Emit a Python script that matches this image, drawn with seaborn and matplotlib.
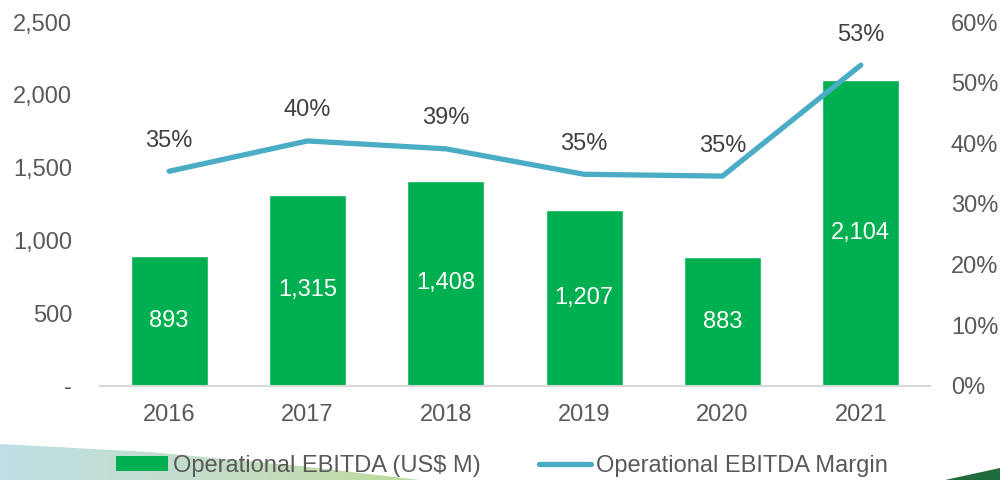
import numpy as np
import matplotlib
matplotlib.use("Agg")
import matplotlib.pyplot as plt
from matplotlib.patches import Polygon, Patch
from matplotlib.lines import Line2D
import seaborn as sns

# Chart data
years = ["2016", "2017", "2018", "2019", "2020", "2021"]
ebitda = [893, 1315, 1408, 1207, 883, 2104]
margin = [35.4, 40.4, 39.1, 34.9, 34.6, 52.9]
left_ticks = [0, 500, 1000, 1500, 2000, 2500]
left_labels = ["-", "500", "1,000", "1,500", "2,000", "2,500"]
right_ticks = [0, 10, 20, 30, 40, 50, 60]

GREEN = "#00B050"
BLUE = "#4BACC6"
GREY = "#595959"

sns.set_style("white")
plt.rcParams["font.family"] = ["Liberation Sans", "DejaVu Sans"]
FS = 17

fig = plt.figure(figsize=(10, 4.8), dpi=100)

# decorative background shapes at the bottom
bg = fig.add_axes([0, 0, 1, 1], zorder=-5)
bg.set_xlim(0, 1000)
bg.set_ylim(480, 0)
bg.axis("off")
grad = np.linspace(0, 1, 256).reshape(1, -1)
cmap = matplotlib.colors.LinearSegmentedColormap.from_list("bgc", ["#BFE0E6", "#C4DDC8", "#BFDA98"])
img = bg.imshow(grad, extent=[0, 430, 480, 440], cmap=cmap, aspect="auto")
shape = Polygon([(0, 444), (150, 452), (300, 466), (420, 480), (0, 480)], closed=True,
                facecolor="none", edgecolor="none")
bg.add_patch(shape)
img.set_clip_path(shape)
bg.add_patch(Polygon([(945, 480), (1000, 468), (1000, 480)], closed=True,
                     facecolor="#1F6B3C", edgecolor="none"))

ax = fig.add_axes([0.1, 0.196, 0.83, 0.758])
sns.barplot(x=years, y=ebitda, color=GREEN, width=0.555, saturation=1, ax=ax)
ax.set_ylim(0, 2500)
ax.set_xlim(-0.5, 5.5)
ax.set_yticks(left_ticks)
ax.set_yticklabels(left_labels)
ax.tick_params(axis="y", length=0, pad=20, labelsize=FS, labelcolor=GREY)
ax.tick_params(axis="x", length=0, pad=13, labelsize=FS, labelcolor=GREY)
for s in ["top", "right", "left"]:
    ax.spines[s].set_visible(False)
ax.spines["bottom"].set_color("#D9D9D9")
ax.spines["bottom"].set_linewidth(1.5)
ax.set_xlabel("")
ax.set_ylabel("")

for i, v in enumerate(ebitda):
    ax.text(i, v / 2, f"{v:,}", ha="center", va="center", color="white", fontsize=FS)

ax2 = ax.twinx()
sns.lineplot(x=np.arange(len(years)), y=margin, ax=ax2, color=BLUE, linewidth=3.8,
             solid_capstyle="round")
ax2.set_ylim(0, 60)
ax2.set_xlim(-0.5, 5.5)
ax2.set_yticks(right_ticks)
ax2.set_yticklabels([f"{t}%" for t in right_ticks])
ax2.tick_params(axis="y", length=0, pad=15, labelsize=FS, labelcolor=GREY)
for s in ax2.spines.values():
    s.set_visible(False)
ax2.set_ylabel("")

for i, v in enumerate(margin):
    ax2.annotate(f"{v:.0f}%", (i, v), xytext=(0, 22), textcoords="offset points",
                 ha="center", va="center", fontsize=FS, color="#404040")

handles = [Patch(facecolor=GREEN, edgecolor="none"),
           Line2D([0], [0], color=BLUE, linewidth=3.8, solid_capstyle="round")]
leg = fig.legend(handles, ["Operational EBITDA (US$ M)", "Operational EBITDA Margin"],
                 loc="center", bbox_to_anchor=(0.502, 0.03), ncol=2, frameon=False,
                 fontsize=FS, handlelength=2.2, handleheight=0.6, handletextpad=0.2,
                 columnspacing=2.5, borderaxespad=0)
for t in leg.get_texts():
    t.set_color(GREY)

fig.savefig("out.png", dpi=100)
